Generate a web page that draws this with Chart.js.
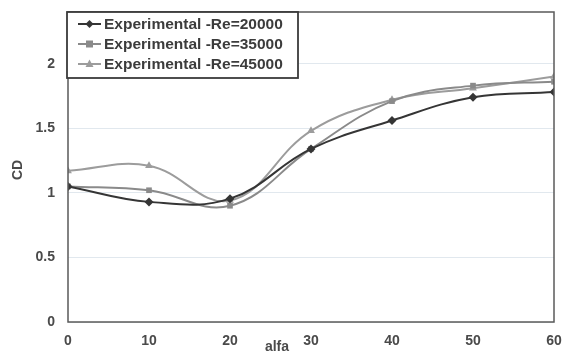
<!DOCTYPE html>
<html lang="en">
<head>
    <meta charset="UTF-8">
    <title>CD vs alfa</title>
    <script src="https://cdn.jsdelivr.net/npm/chart.js"></script>
    <style>
        html, body { margin: 0; padding: 0; background: #fff; }
        #wrap { width: 563px; height: 360px; position: relative; }
    </style>
</head>
<body>
<div id="wrap"><canvas id="cdChart" width="563" height="360"></canvas></div>
<script>
// data
const alfa = [0, 10, 20, 30, 40, 50, 60];
const cdRe20000 = [1.05, 0.93, 0.955, 1.34, 1.56, 1.74, 1.78];
const cdRe35000 = [1.05, 1.02, 0.90, 1.34, 1.71, 1.83, 1.86];
const cdRe45000 = [1.17, 1.21, 0.94, 1.48, 1.72, 1.81, 1.90];
const seriesNames = ["Experimental -Re=20000", "Experimental -Re=35000", "Experimental -Re=45000"];
const yTicks = [0, 0.5, 1, 1.5, 2];
const xTicks = [0, 10, 20, 30, 40, 50, 60];

const tickFont = { family: "'Liberation Sans', Arial, sans-serif", size: 14, weight: "bold" };
const colors = ["#353535", "#8a8a8a", "#9c9c9c"];
const markers = ["rectRot", "rect", "triangle"];

function pts(ys) { return alfa.map((a, i) => ({ x: a, y: ys[i] })); }

function drawMarker(ctx, kind, x, y, color) {
    ctx.fillStyle = color;
    ctx.beginPath();
    if (kind === "rectRot") {
        ctx.moveTo(x, y - 4); ctx.lineTo(x + 4, y); ctx.lineTo(x, y + 4); ctx.lineTo(x - 4, y);
    } else if (kind === "rect") {
        ctx.rect(x - 3.5, y - 3.5, 7, 7);
    } else {
        ctx.moveTo(x, y - 4.5); ctx.lineTo(x + 4, y + 3); ctx.lineTo(x - 4, y + 3);
    }
    ctx.closePath();
    ctx.fill();
}

// frame, axis titles and boxed legend inside the plot
const extras = {
    id: "extras",
    afterDraw(chart) {
        const ctx = chart.ctx, a = chart.chartArea;
        ctx.save();
        ctx.strokeStyle = "#5a5a5a";
        ctx.lineWidth = 1.5;
        ctx.strokeRect(a.left, a.top, a.right - a.left, a.bottom - a.top);

        ctx.fillStyle = "#4a4a4a";
        ctx.font = "bold 14px 'Liberation Sans', Arial, sans-serif";
        ctx.textAlign = "center";
        ctx.textBaseline = "middle";
        ctx.fillText("alfa", 277, 347);
        ctx.translate(18, 170);
        ctx.rotate(-Math.PI / 2);
        ctx.fillText("CD", 0, 0);
        ctx.restore();

        // legend box
        ctx.save();
        const bx = 67, by = 12, bw = 231, bh = 66;
        ctx.fillStyle = "#fff";
        ctx.fillRect(bx, by, bw, bh);
        ctx.strokeStyle = "#3a3a3a";
        ctx.lineWidth = 1.8;
        ctx.strokeRect(bx, by, bw, bh);
        ctx.font = "bold 15.5px 'Liberation Sans', Arial, sans-serif";
        ctx.textBaseline = "middle";
        ctx.textAlign = "left";
        seriesNames.forEach((name, i) => {
            const y = 24 + i * 20;
            ctx.strokeStyle = colors[i];
            ctx.lineWidth = 2;
            ctx.beginPath();
            ctx.moveTo(78, y); ctx.lineTo(101, y);
            ctx.stroke();
            drawMarker(ctx, markers[i], 89.5, y, colors[i]);
            ctx.fillStyle = "#3c3c3c";
            ctx.fillText(name, 104, y + 1);
        });
        ctx.restore();
    }
};

function ds(label, ys, i) {
    return {
        label: label,
        data: pts(ys),
        borderColor: colors[i],
        backgroundColor: colors[i],
        borderWidth: 2,
        tension: 0.4,
        pointStyle: markers[i],
        pointRadius: i === 1 ? 4 : 4.5,
        pointBorderWidth: 0,
        pointBackgroundColor: colors[i]
    };
}

new Chart(document.getElementById("cdChart").getContext("2d"), {
    type: "line",
    data: {
        datasets: [
            ds(seriesNames[0], cdRe20000, 0),
            ds(seriesNames[1], cdRe35000, 1),
            ds(seriesNames[2], cdRe45000, 2)
        ]
    },
    options: {
        responsive: false,
        animation: false,
        layout: { padding: { top: 12, right: 9, left: 0, bottom: 0 } },
        plugins: { legend: { display: false }, tooltip: { enabled: false } },
        scales: {
            x: {
                type: "linear",
                min: 0,
                max: 60,
                afterBuildTicks(s) { s.ticks = xTicks.map(v => ({ value: v })); },
                afterFit(s) { s.height = 38; s.paddingLeft = 0; s.paddingRight = 0; },
                grid: { display: false, drawTicks: false },
                border: { display: false },
                ticks: { font: tickFont, color: "#4a4a4a", padding: 11, maxRotation: 0 }
            },
            y: {
                min: 0,
                max: 2.4,
                afterBuildTicks(s) { s.ticks = yTicks.map(v => ({ value: v })); },
                afterFit(s) { s.width = 68; s.paddingTop = 0; s.paddingBottom = 0; },
                grid: { color: "#e1e8ee", lineWidth: 1, drawTicks: false },
                border: { display: false },
                ticks: {
                    font: tickFont, color: "#4a4a4a", padding: 13,
                    callback: v => String(v)
                }
            }
        }
    },
    plugins: [extras]
});
</script>
</body>
</html>
